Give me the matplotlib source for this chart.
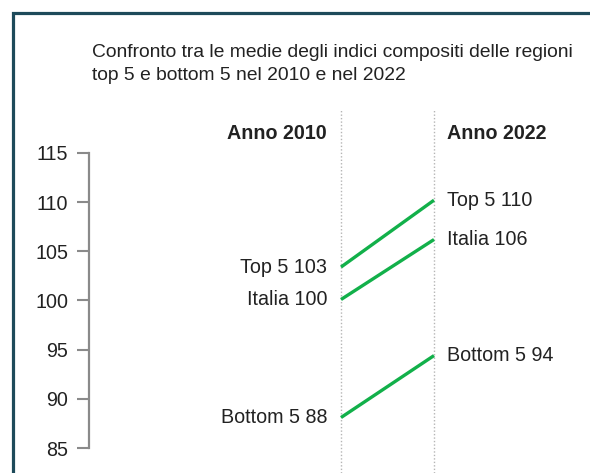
import matplotlib
matplotlib.use("Agg")
import matplotlib.pyplot as plt
from matplotlib.lines import Line2D

plt.rcParams["font.family"] = ["Liberation Sans", "DejaVu Sans"]

# dati
anni = ["Anno 2010", "Anno 2022"]
gruppi = ["Top 5", "Italia", "Bottom 5"]
valori_2010 = [103.4, 100.1, 88.1]
valori_2022 = [110.2, 106.2, 94.4]
y_ticks = [85, 90, 95, 100, 105, 110, 115]

titolo = [
    "Confronto tra le medie degli indici compositi delle regioni",
    "top 5 e bottom 5 nel 2010 e nel 2022",
]

VERDE = "#12b04a"
GRIGIO = "#8a8a8a"
TESTO = "#222222"
W, H = 590, 473
FS = 14.2


def main():
    fig = plt.figure(figsize=(W / 100, H / 100), dpi=100)

    # cornice in alto e a sinistra
    fig.add_artist(Line2D([13 / W, 13 / W, 1], [0, 1 - 13 / H, 1 - 13 / H],
                          transform=fig.transFigure, color="#1d4a5a",
                          linewidth=2.3, solid_joinstyle="miter"))

    for i, riga in enumerate(titolo):
        fig.text(92 / W, 1 - (57 + 23 * i) / H, riga, fontsize=13.9,
                 color=TESTO, ha="left", va="baseline")

    ax = fig.add_axes([89 / W, 0, 1 - 89 / W, (H - 110) / H])
    ax.set_facecolor("none")
    ax.set_xlim((89 - 341) / 93, (590 - 341) / 93)
    ax.set_ylim(82.46, 119.37)

    for s in ["top", "right", "bottom"]:
        ax.spines[s].set_visible(False)
    ax.spines["left"].set_bounds(85, 115)
    ax.spines["left"].set_color(GRIGIO)
    ax.spines["left"].set_linewidth(1.6)
    ax.set_xticks([])
    ax.set_yticks(y_ticks)
    ax.tick_params(axis="y", length=8.5, width=1.5, color=GRIGIO,
                   labelsize=FS, labelcolor=TESTO, pad=6.5)

    # linee verticali punteggiate
    for x in range(len(anni)):
        ax.axvline(x, color="#b5b5b5", linewidth=1.0, linestyle=(0, (1, 1.5)))

    for g, v0, v1 in zip(gruppi, valori_2010, valori_2022):
        ax.plot([0, 1], [v0, v1], color=VERDE, linewidth=2.4,
                solid_capstyle="butt")
        ax.annotate(f"{g} {round(v0)}", (0, v0), xytext=(-10, 0),
                    textcoords="offset points", ha="right", va="center",
                    fontsize=FS, color=TESTO)
        ax.annotate(f"{g} {round(v1)}", (1, v1), xytext=(9.5, 0),
                    textcoords="offset points", ha="left", va="center",
                    fontsize=FS, color=TESTO)

    ax.text(327 / W, 1 - 133 / H, anni[0], transform=fig.transFigure,
            ha="right", va="center", fontsize=FS, fontweight="bold",
            color=TESTO)
    ax.text(447 / W, 1 - 133 / H, anni[1], transform=fig.transFigure,
            ha="left", va="center", fontsize=FS, fontweight="bold",
            color=TESTO)

    fig.savefig("out.png", dpi=100)
    plt.close(fig)


if __name__ == "__main__":
    main()
